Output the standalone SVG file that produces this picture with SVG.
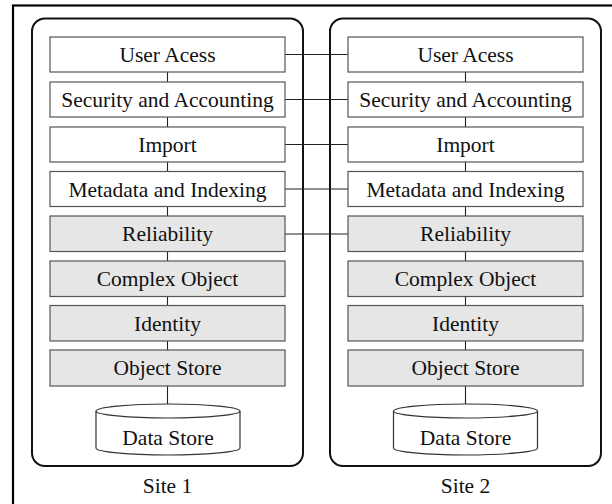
<svg xmlns="http://www.w3.org/2000/svg" width="612" height="504" viewBox="0 0 612 504">
<style>
.frame{fill:none;stroke:#000;stroke-width:2.2}
.site{fill:none;stroke:#111;stroke-width:2}
.box{fill:#fff;stroke:#555;stroke-width:1.2}
.g{fill:#e6e6e6}
.ln{stroke:#222;stroke-width:1.1;fill:none}
.cyl{fill:#fff;stroke:#333;stroke-width:1.2}
text{font-family:"Liberation Serif","Times New Roman",serif;font-size:21.5px;fill:#111;text-anchor:middle}
</style>
<rect class="frame" x="13" y="5.5" width="620" height="520"/>
<g id="site1">
<rect class="site" x="32" y="18.5" width="271" height="447.5" rx="13"/>
<text x="167.5" y="493">Site 1</text>
</g>
<g id="site2">
<rect class="site" x="330" y="18.5" width="271" height="447.5" rx="13"/>
<text x="465.5" y="493">Site 2</text>
</g>
<g id="connectors">
<path class="ln" d="M167.5 72V82M167.5 117V127M167.5 162V171M167.5 207V216M167.5 252V261M167.5 297V306M167.5 341V350M167.5 386V404"/>
<path class="ln" d="M465.5 72V82M465.5 117V127M465.5 162V171M465.5 207V216M465.5 252V261M465.5 297V306M465.5 341V350M465.5 386V404"/>
<path class="ln" d="M285 54.5H348M285 99.5H348M285 144.5H348M285 189H348M285 234H348"/>
</g>
<g id="l-user"><rect class="box" x="50" y="37" width="235" height="35"/><text x="167.5" y="62">User Acess</text></g>
<g id="l-sec"><rect class="box" x="50" y="82" width="235" height="35"/><text x="167.5" y="107">Security and Accounting</text></g>
<g id="l-imp"><rect class="box" x="50" y="127" width="235" height="35"/><text x="167.5" y="152">Import</text></g>
<g id="l-meta"><rect class="box" x="50" y="171.5" width="235" height="35"/><text x="167.5" y="196.5">Metadata and Indexing</text></g>
<g id="l-rel"><rect class="box g" x="50" y="216" width="235" height="35.5"/><text x="167.5" y="241">Reliability</text></g>
<g id="l-cx"><rect class="box g" x="50" y="261" width="235" height="35.5"/><text x="167.5" y="286">Complex Object</text></g>
<g id="l-id"><rect class="box g" x="50" y="305.5" width="235" height="35.5"/><text x="167.5" y="330.5">Identity</text></g>
<g id="l-os"><rect class="box g" x="50" y="350" width="235" height="36"/><text x="167.5" y="375">Object Store</text></g>
<g id="l-ds"><path class="cyl" d="M96 411A72 7 0 0 1 240 411V448A72 7 0 0 1 96 448Z"/><path class="cyl" fill="none" d="M96 411A72 7 0 0 0 240 411"/><text x="168" y="445">Data Store</text></g>
<g id="r-user"><rect class="box" x="348" y="37" width="235" height="35"/><text x="465.5" y="62">User Acess</text></g>
<g id="r-sec"><rect class="box" x="348" y="82" width="235" height="35"/><text x="465.5" y="107">Security and Accounting</text></g>
<g id="r-imp"><rect class="box" x="348" y="127" width="235" height="35"/><text x="465.5" y="152">Import</text></g>
<g id="r-meta"><rect class="box" x="348" y="171.5" width="235" height="35"/><text x="465.5" y="196.5">Metadata and Indexing</text></g>
<g id="r-rel"><rect class="box g" x="348" y="216" width="235" height="35.5"/><text x="465.5" y="241">Reliability</text></g>
<g id="r-cx"><rect class="box g" x="348" y="261" width="235" height="35.5"/><text x="465.5" y="286">Complex Object</text></g>
<g id="r-id"><rect class="box g" x="348" y="305.5" width="235" height="35.5"/><text x="465.5" y="330.5">Identity</text></g>
<g id="r-os"><rect class="box g" x="348" y="350" width="235" height="36"/><text x="465.5" y="375">Object Store</text></g>
<g id="r-ds"><path class="cyl" d="M393.5 411A72 7 0 0 1 537.5 411V448A72 7 0 0 1 393.5 448Z"/><path class="cyl" fill="none" d="M393.5 411A72 7 0 0 0 537.5 411"/><text x="465.5" y="445">Data Store</text></g>
</svg>
